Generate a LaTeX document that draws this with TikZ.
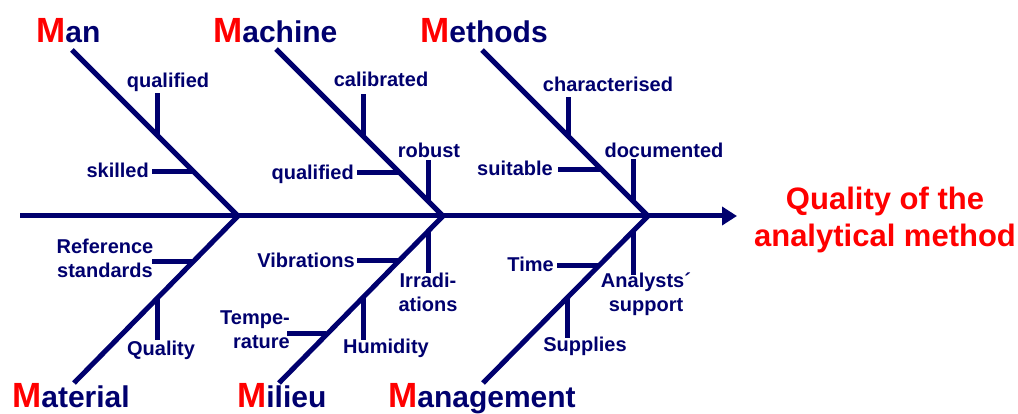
\documentclass[tikz,border=0pt]{standalone}
\usepackage{fontspec}
\setmainfont{Liberation Sans}
\usetikzlibrary{arrows.meta}
\definecolor{navy}{RGB}{0,0,110}
\definecolor{mred}{RGB}{255,0,0}
\newcommand{\RM}{\textcolor{mred}{\fontsize{35}{36}\selectfont M}}
\begin{document}
\begin{tikzpicture}[x=1pt,y=-1pt,
  bone/.style={draw=navy,line width=5pt},
  rib/.style={draw=navy,line width=5pt},
  lbl/.style={text=navy,font=\fontsize{20}{24}\selectfont\bfseries,inner sep=0pt},
  big/.style={text=navy,font=\fontsize{30}{36}\selectfont\bfseries,inner sep=0pt,anchor=base west},
  goal/.style={text=mred,font=\fontsize{31}{37}\selectfont\bfseries,inner sep=0pt,align=center}]
\useasboundingbox (0,0) rectangle (1018,414);

% spine
\coordinate (s0) at (20,216);
\coordinate (tip) at (737,216);
\coordinate (j1) at (238,216);
\coordinate (j2) at (443,216);
\coordinate (j3) at (648,216);
\draw[bone,-{Triangle[length=15pt,width=18pt]}] (s0) -- (tip);

% main bone ends
\coordinate (manE) at (72,50);
\coordinate (macE) at (276,49);
\coordinate (metE) at (482,50);
\coordinate (matE) at (74,383);
\coordinate (milE) at (279,383);
\coordinate (mgtE) at (483,383);
\draw[bone] (manE) -- (j1);
\draw[bone] (macE) -- (j2);
\draw[bone] (metE) -- (j3);
\draw[bone] (matE) -- (j1);
\draw[bone] (milE) -- (j2);
\draw[bone] (mgtE) -- (j3);

% category labels
\node[big] (man) at (36,43) {\RM an};
\node[big] (machine) at (213,43) {\RM achine};
\node[big] (methods) at (420,43) {\RM ethods};
\node[big] (material) at (12,407) {\RM aterial};
\node[big] (milieu) at (237,407) {\RM ilieu};
\node[big] (management) at (388,407) {\RM anagement};

% goal
\node[goal] (goal) at (885,220) {Quality of the\\analytical method};

% --- Man ribs
\coordinate (m1a) at (157,135); \coordinate (m1b) at (157,93);
\draw[rib] (m1a) -- (m1b);
\node[lbl,anchor=base] (qual1) at (168,88) {qualified};
\coordinate (m2a) at (194,172); \coordinate (m2b) at (152,172);
\draw[rib] (m2a) -- (m2b);
\node[lbl,anchor=base east] (skilled) at (149,178) {skilled};

% --- Machine ribs
\coordinate (c1a) at (363,136); \coordinate (c1b) at (363,94);
\draw[rib] (c1a) -- (c1b);
\node[lbl,anchor=base] (calib) at (381,87) {calibrated};
\coordinate (c2a) at (400,173); \coordinate (c2b) at (357,173);
\draw[rib] (c2a) -- (c2b);
\node[lbl,anchor=base east] (qual2) at (354,180) {qualified};
\coordinate (c3a) at (428,201); \coordinate (c3b) at (428,160);
\draw[rib] (c3a) -- (c3b);
\node[lbl,anchor=base] (robust) at (429,158) {robust};

% --- Methods ribs
\coordinate (t1a) at (568,136); \coordinate (t1b) at (568,97);
\draw[rib] (t1a) -- (t1b);
\node[lbl,anchor=base] (charac) at (608,92) {characterised};
\coordinate (t2a) at (602,170); \coordinate (t2b) at (558,170);
\draw[rib] (t2a) -- (t2b);
\node[lbl,anchor=base east] (suitable) at (553,176) {suitable};
\coordinate (t3a) at (633,201); \coordinate (t3b) at (633,159);
\draw[rib] (t3a) -- (t3b);
\node[lbl,anchor=base] (docu) at (664,158) {documented};

% --- Material ribs
\coordinate (a1a) at (192,262); \coordinate (a1b) at (152,262);
\draw[rib] (a1a) -- (a1b);
\node[lbl,align=center,anchor=center] (refstd) at (105,258) {Reference\\standards};
\coordinate (a2a) at (157,297); \coordinate (a2b) at (157,340);
\draw[rib] (a2a) -- (a2b);
\node[lbl,anchor=base] (quality) at (161,355) {Quality};

% --- Milieu ribs
\coordinate (l1a) at (398,261); \coordinate (l1b) at (357,261);
\draw[rib] (l1a) -- (l1b);
\node[lbl,anchor=base east] (vibr) at (355,268) {Vibrations};
\coordinate (l2a) at (428,231); \coordinate (l2b) at (428,273);
\draw[rib] (l2a) -- (l2b);
\node[lbl,align=center,anchor=center] (irrad) at (428,292) {Irradi-\\ations};
\coordinate (l3a) at (326,333); \coordinate (l3b) at (287,333);
\draw[rib] (l3a) -- (l3b);
\node[lbl,align=right,anchor=east] (temp) at (290,330) {Tempe-\\rature};
\coordinate (l4a) at (363,296); \coordinate (l4b) at (363,340);
\draw[rib] (l4a) -- (l4b);
\node[lbl,anchor=base] (humid) at (386,353) {Humidity};

% --- Management ribs
\coordinate (g1a) at (598,266); \coordinate (g1b) at (557,266);
\draw[rib] (g1a) -- (g1b);
\node[lbl,anchor=base east] (time) at (554,272) {Time};
\coordinate (g2a) at (633,231); \coordinate (g2b) at (633,275);
\draw[rib] (g2a) -- (g2b);
\node[lbl,align=center,anchor=center] (analyst) at (646,294) {Analysts´\\support};
\coordinate (g3a) at (567,297); \coordinate (g3b) at (567,338);
\draw[rib] (g3a) -- (g3b);
\node[lbl,anchor=base] (suppl) at (585,352) {Supplies};
\end{tikzpicture}
\end{document}
